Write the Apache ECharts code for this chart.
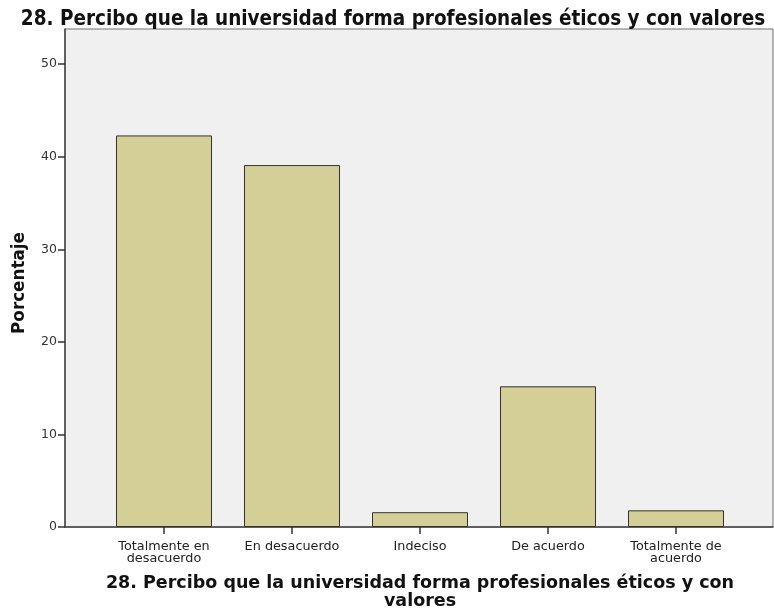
<!DOCTYPE html>
<html>
<head>
<meta charset="utf-8">
<script src="https://cdn.jsdelivr.net/npm/echarts@6/dist/echarts.min.js"></script>
<style>
  html, body { margin: 0; padding: 0; background: #fff; }
  #chart { width: 774px; height: 614px; }
</style>
</head>
<body>
<div id="chart"></div>
<script>
let categories = ["Totalmente en\ndesacuerdo", "En desacuerdo", "Indeciso", "De acuerdo", "Totalmente de\nacuerdo"];
let porcentaje = [42.3, 39.1, 1.6, 15.2, 1.8];
let yTicks = [0, 10, 20, 30, 40, 50];

let chartDom = document.getElementById("chart");
let myChart = echarts.init(chartDom);
let font = "DejaVu Sans";
let option;

option = {
  animation: false,
  title: {
    text: "28. Percibo que la universidad forma profesionales éticos y con valores",
    left: 388,
    textAlign: "center",
    top: 4,
    textStyle: {
      fontFamily: "DejaVu Sans Condensed",
      fontWeight: "bold",
      fontSize: 20.5,
      color: "#111",
    },
  },
  grid: [
    // caja de fondo
    {
      left: 65,
      right: 1,
      top: 29,
      bottom: 87,
      outerBoundsMode: "none",
      show: true,
      backgroundColor: "#f0f0f0",
      borderColor: "#707070",
      borderWidth: 1,
    },
    // barras
    {
      left: 100,
      right: 34,
      top: 29,
      bottom: 87,
      outerBoundsMode: "none",
    },
  ],
  xAxis: [
    {
      gridIndex: 0,
      type: "value",
      min: 0,
      max: 1,
      axisLine: { show: true, lineStyle: { color: "#444", width: 1.5 } },
      axisTick: { show: false },
      axisLabel: { show: false },
      splitLine: { show: false },
    },
    {
      gridIndex: 1,
      type: "category",
      data: categories,
      axisLine: { show: false },
      axisTick: {
        show: true,
        alignWithLabel: true,
        length: 7,
        lineStyle: { color: "#333", width: 1.5 },
      },
      axisLabel: {
        fontFamily: font,
        fontSize: 12.8,
        color: "#222",
        lineHeight: 12.5,
        margin: 13,
      },
      name: "28. Percibo que la universidad forma profesionales éticos y con\nvalores",
      nameLocation: "middle",
      nameGap: 47,
      nameTextStyle: {
        fontFamily: font,
        fontWeight: "bold",
        fontSize: 17.5,
        lineHeight: 18,
        color: "#111",
      },
    },
  ],
  yAxis: [
    {
      gridIndex: 0,
      type: "value",
      show: false,
      splitLine: { show: false },
    },
    {
      gridIndex: 1,
      type: "value",
      min: 0,
      max: 53.8,
      interval: 10,
      offset: 35,
      axisLine: { show: true, lineStyle: { color: "#444", width: 1.5 } },
      axisTick: {
        show: true,
        length: 7,
        customValues: yTicks,
        lineStyle: { color: "#333", width: 1.5 },
      },
      axisLabel: {
        customValues: yTicks,
        fontFamily: font,
        fontSize: 12.5,
        color: "#333",
        margin: 8,
      },
      splitLine: { show: false },
      name: "Porcentaje",
      nameLocation: "middle",
      nameGap: 37,
      nameTextStyle: {
        fontFamily: font,
        fontWeight: "bold",
        fontSize: 16.8,
        color: "#111",
        padding: [0, 10, 0, 0],
      },
    },
  ],
  series: [
    {
      type: "bar",
      xAxisIndex: 1,
      yAxisIndex: 1,
      data: porcentaje,
      barWidth: 96,
      itemStyle: {
        color: "#d3cf97",
        borderColor: "#333",
        borderWidth: 1,
      },
    },
  ],
};

option && myChart.setOption(option);
</script>
</body>
</html>
